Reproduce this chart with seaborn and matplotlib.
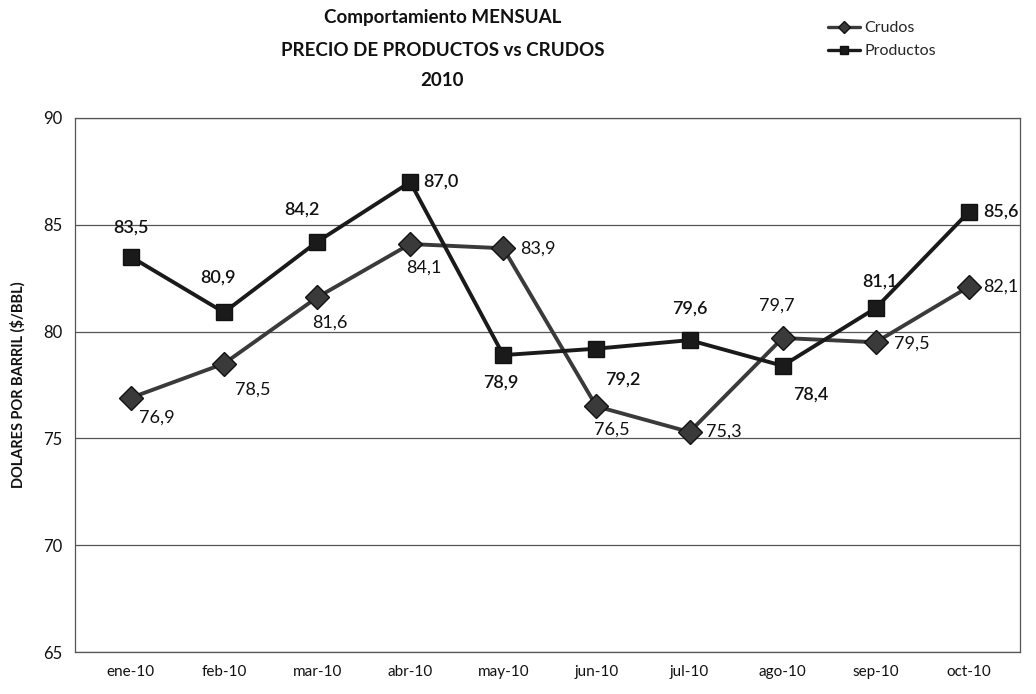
import matplotlib
matplotlib.use("Agg")
import matplotlib.pyplot as plt
import seaborn as sns
import pandas as pd
from matplotlib.lines import Line2D

months = ["ene-10", "feb-10", "mar-10", "abr-10", "may-10", "jun-10",
          "jul-10", "ago-10", "sep-10", "oct-10"]
crudos = [76.9, 78.5, 81.6, 84.1, 83.9, 76.5, 75.3, 79.7, 79.5, 82.1]
productos = [83.5, 80.9, 84.2, 87.0, 78.9, 79.2, 79.6, 78.4, 81.1, 85.6]

# label placement (offset in points)
crudos_off = [(19, -14), (21, -19), (9, -18), (10, -17), (25, 0), (11, -17),
              (25, 0), (-4, 23), (26, -1), (23, 0)]
productos_off = [(0, 21), (-4, 25), (-11, 23), (22, 0), (-2, -20), (19, -22),
                 (0, 23), (20, -21), (3, 19), (23, 0)]

sns.set_theme(style="white")
plt.rcParams['font.family'] = ['Lato', 'DejaVu Sans']

df = pd.DataFrame({
    "mes": list(range(len(months))) * 2,
    "valor": crudos + productos,
    "serie": ["Crudos"] * len(months) + ["Productos"] * len(months),
})

fig = plt.figure(figsize=(10.36, 6.94), dpi=100)
ax = fig.add_axes([0.0724, 0.0605, 0.9122, 0.7695])

sns.lineplot(data=df, x="mes", y="valor", hue="serie", style="serie",
             markers={"Crudos": "D", "Productos": "s"}, dashes=False,
             palette={"Crudos": "#3a3a3a", "Productos": "#1a1a1a"},
             linewidth=2.8, markersize=12, markeredgecolor="#111111",
             markeredgewidth=1.0, ax=ax, legend=False)

for i, (v, o) in enumerate(zip(crudos, crudos_off)):
    ax.annotate(f"{v:.1f}".replace(".", ","), (i, v), xytext=o,
                textcoords="offset points", ha="center", va="center",
                fontsize=13, color="#111111")
for i, (v, o) in enumerate(zip(productos, productos_off)):
    ax.annotate(f"{v:.1f}".replace(".", ","), (i, v), xytext=o,
                textcoords="offset points", ha="center", va="center",
                fontsize=13, color="#111111", fontweight="semibold")

ax.set_ylim(65, 90)
ax.set_xlim(-0.6, 9.55)
ax.set_yticks([65, 70, 75, 80, 85, 90])
ax.set_xticks(range(len(months)))
ax.set_xticklabels(months)
ax.tick_params(axis="y", labelsize=12, colors="#111111", length=0, pad=9)
ax.tick_params(axis="x", labelsize=11, colors="#111111", length=0, pad=9)
ax.yaxis.grid(True, color="#555555", linewidth=0.9)
ax.xaxis.grid(False)
for s in ax.spines.values():
    s.set_color("#555555")
    s.set_linewidth(0.9)
ax.set_xlabel("")
ax.set_ylabel("DOLARES POR BARRIL ($/BBL)", fontsize=10.5, fontweight="bold",
              color="#111111", labelpad=13)

tkw = dict(ha="center", va="center", fontsize=13.5, fontweight="bold",
           color="#111111")
fig.text(0.427, 1 - 18 / 694, "Comportamiento MENSUAL", **tkw)
fig.text(0.427, 1 - 50 / 694, "PRECIO DE PRODUCTOS vs CRUDOS", **tkw)
fig.text(0.427, 1 - 81 / 694, "2010", **tkw)

handles = [
    Line2D([], [], color="#3a3a3a", marker="D", markersize=6, linewidth=2.4,
           markeredgecolor="#111111"),
    Line2D([], [], color="#1a1a1a", marker="s", markersize=6, linewidth=2.4,
           markeredgecolor="#111111"),
]
fig.legend(handles, ["Crudos", "Productos"], loc="upper left",
           bbox_to_anchor=(0.785, 0.99), frameon=False, fontsize=11.5,
           handlelength=2.0, handletextpad=0.3, labelspacing=0.55)

fig.savefig("out.png", dpi=100)
